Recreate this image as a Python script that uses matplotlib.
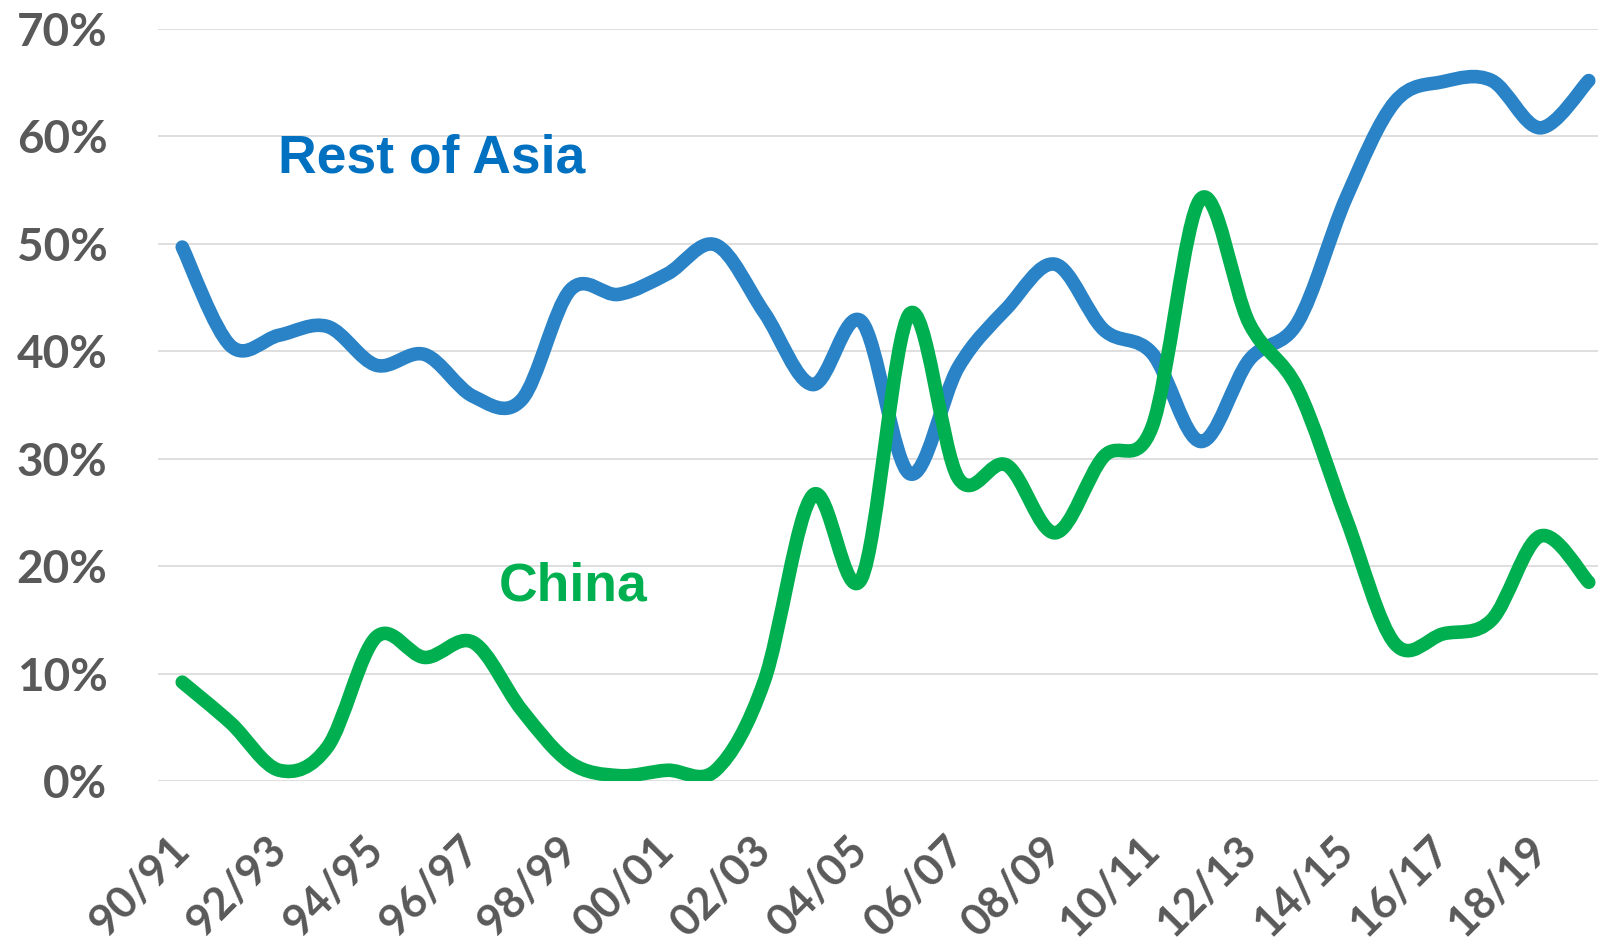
import numpy as np
import matplotlib
matplotlib.use("Agg")
import matplotlib.pyplot as plt
from matplotlib.path import Path
from matplotlib.patches import PathPatch
from matplotlib.ticker import FuncFormatter
from matplotlib.transforms import ScaledTranslation

plt.rcParams['font.family'] = ['Liberation Sans', 'DejaVu Sans']

# seasons 90/91 .. 19/20
seasons = ['90/91', '91/92', '92/93', '93/94', '94/95', '95/96', '96/97', '97/98',
           '98/99', '99/00', '00/01', '01/02', '02/03', '03/04', '04/05', '05/06',
           '06/07', '07/08', '08/09', '09/10', '10/11', '11/12', '12/13', '13/14',
           '14/15', '15/16', '16/17', '17/18', '18/19', '19/20']

# share, in %
rest_of_asia = [49.7, 40.5, 41.5, 42.3, 38.7, 39.7, 35.8, 35.5, 45.7, 45.3,
                47.2, 49.9, 43.6, 36.9, 42.8, 28.6, 38.5, 44.0, 48.1, 42.0,
                39.8, 31.6, 39.2, 42.7, 54.3, 63.2, 65.1, 65.2, 60.8, 65.2]
china = [9.2, 5.4, 1.0, 3.2, 13.4, 11.5, 12.9, 6.6, 1.7, 0.5,
         1.0, 1.0, 9.3, 26.6, 18.8, 43.5, 28.2, 29.4, 23.1, 30.2,
         33.0, 54.2, 42.6, 36.5, 24.4, 12.8, 13.7, 15.0, 22.8, 18.5]

BLUE_LINE = '#2983C6'
BLUE_TEXT = '#0070C0'
GREEN = '#00B050'
GREY = '#595959'
TICK_FONT = ['Lato', 'DejaVu Sans']


def smooth_path(xs, ys):
    # excel style smoothed line: cubic bezier through every point
    pts = np.column_stack([xs, ys])
    n = len(pts)
    verts = [pts[0]]
    codes = [Path.MOVETO]
    for i in range(n - 1):
        p0 = pts[max(i - 1, 0)]
        p1 = pts[i]
        p2 = pts[i + 1]
        p3 = pts[min(i + 2, n - 1)]
        c1 = p1 + (p2 - p0) / 6.0
        c2 = p2 - (p3 - p1) / 6.0
        verts += [c1, c2, p2]
        codes += [Path.CURVE4] * 3
    return Path(verts, codes)


fig = plt.figure(figsize=(15.98, 9.46), dpi=100)
ax = fig.add_axes([158 / 1598, 165 / 946, 1455 / 1598, 752 / 946])

x = np.arange(len(seasons))
for vals, col in [(rest_of_asia, BLUE_LINE), (china, GREEN)]:
    p = smooth_path(x, np.array(vals) / 100.0)
    ax.add_patch(PathPatch(p, fill=False, edgecolor=col, lw=9.8,
                           capstyle='round', joinstyle='round', zorder=3))

ax.set_xlim(-0.5, 29.5)
ax.set_ylim(0, 0.7)
ax.set_yticks(np.arange(0, 0.71, 0.1))
ax.yaxis.set_major_formatter(FuncFormatter(lambda v, _: f'{v * 100:.0f}%'))
ax.grid(axis='y', color='#D9D9D9', lw=1.2)
ax.set_axisbelow(True)
for s in ax.spines.values():
    s.set_visible(False)

ax.set_xticks(x[::2])
ax.set_xticklabels(seasons[::2], rotation=45, ha='right', va='center',
                   rotation_mode='anchor')
ax.tick_params(axis='y', length=0, labelsize=33, labelcolor=GREY, pad=36.5)
ax.tick_params(axis='x', length=0, labelsize=31.5, labelcolor=GREY, pad=45)
shift = ScaledTranslation(0.0, 0, fig.dpi_scale_trans)
for lab in ax.get_xticklabels():
    lab.set_transform(lab.get_transform() + shift)
for lab in ax.get_xticklabels() + ax.get_yticklabels():
    lab.set_fontweight('bold')
    lab.set_family(TICK_FONT)

ax.text(1.98, 0.566, 'Rest of Asia', color=BLUE_TEXT, fontsize=38.5,
        fontweight='bold', ha='left', va='baseline')
ax.text(6.52, 0.1676, 'China', color=GREEN, fontsize=38.5,
        fontweight='bold', ha='left', va='baseline')

fig.savefig('out.png', dpi=100)
